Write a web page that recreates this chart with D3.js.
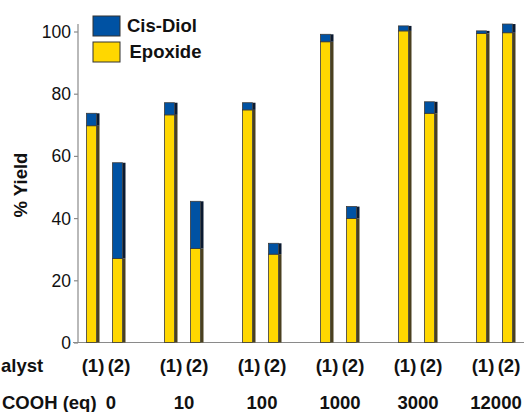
<!DOCTYPE html>
<html><head><meta charset="utf-8">
<script src="https://cdn.jsdelivr.net/npm/d3@7/dist/d3.min.js"></script>
<style>body{margin:0;background:#fff}svg{display:block}text{font-family:"Liberation Sans",Arial,sans-serif}</style>
</head><body>
<svg id="c" width="524" height="412"></svg>
<script>
const groups = ["0","10","100","1000","3000","12000"];
const catalysts = ["(1)","(2)"];
const epoxide = [69.7, 27.0, 73.2, 30.2, 74.8, 28.4, 96.7, 39.9, 100.2, 73.7, 99.4, 99.6];
const diol    = [4.0, 30.8, 3.9, 15.2, 2.3, 3.5, 2.4, 3.8, 1.6, 3.7, 0.8, 2.8];
const yTicks = [0, 20, 40, 60, 80, 100];
const seriesNames = ["Cis-Diol", "Epoxide"];
const rowLabels = ["alyst", "COOH (eq)"];

const svg = d3.select("#c");
const colors = {"Epoxide": "#ffd700", "Cis-Diol": "#0052a3"};
const shade = {"Epoxide": "#4a4020", "Cis-Diol": "#0b1a30"};

const x0 = d3.scaleBand().domain(groups).range([67, 535]).padding(0);
const x1 = d3.scaleBand().domain(catalysts).range([13, 65]).padding(0);
const y = d3.scaleLinear().domain([0, 100]).range([342.5, 31.5]);

// axes
const yAxis = svg.append("g").attr("transform", "translate(78,0)")
  .call(d3.axisLeft(y).tickValues(yTicks).tickSize(4).tickPadding(3).tickFormat(d3.format("d")));
yAxis.select(".domain").attr("d", `M0,24V${y(0)}`).attr("stroke", "#8a8a8a").attr("stroke-width", 1.2);
yAxis.selectAll(".tick line").attr("stroke", "#8a8a8a").attr("stroke-width", 1.2);
yAxis.selectAll(".tick text").attr("font-size", 17.5).attr("fill", "#111").attr("dy", "0.34em")
  .style("font-family", '"Liberation Sans",Arial,sans-serif');
svg.append("line").attr("x1", 73).attr("x2", 524).attr("y1", y(0)).attr("y2", y(0))
  .attr("stroke", "#8a8a8a").attr("stroke-width", 1.2);

// bars
const data = [];
groups.forEach((g, gi) => catalysts.forEach((c, ci) => {
  const i = gi * 2 + ci;
  data.push({g, c, segs: [
    {name: "Epoxide", y0: 0, y1: epoxide[i]},
    {name: "Cis-Diol", y0: epoxide[i], y1: epoxide[i] + diol[i]}
  ]});
}));
const bw = 10, sw = 3;
const bars = svg.append("g").selectAll("g").data(data).join("g")
  .attr("transform", d => `translate(${x0(d.g) + x1(d.c) + x1.bandwidth()/2},0)`);
bars.each(function(d) {
  const gsel = d3.select(this);
  d.segs.forEach(s => {
    gsel.append("rect").attr("x", bw/2 - 1.5).attr("width", sw)
      .attr("y", y(s.y1)).attr("height", y(s.y0) - y(s.y1)).attr("fill", shade[s.name]);
    gsel.append("rect").attr("x", -bw/2 - 1.5).attr("width", bw)
      .attr("y", y(s.y1)).attr("height", y(s.y0) - y(s.y1))
      .attr("fill", colors[s.name]).attr("stroke", "#3a3a3a").attr("stroke-width", 0.8);
  });
});

// catalyst labels
const bold = 18.5;
svg.append("g").selectAll("text").data(data).join("text")
  .attr("x", d => x0(d.g) + x1(d.c) + x1.bandwidth()/2).attr("y", 372)
  .attr("text-anchor", "middle").attr("font-weight", "bold").attr("font-size", bold).attr("fill", "#111")
  .text(d => d.c);
svg.append("g").selectAll("text").data(groups).join("text")
  .attr("x", (d, i) => x0(d) + x0.bandwidth()/2 + (i === 0 ? 5 : 0)).attr("y", 409)
  .attr("text-anchor", "middle").attr("font-weight", "bold").attr("font-size", bold).attr("fill", "#111")
  .text(d => d);
svg.append("text").attr("x", 1).attr("y", 372)
  .attr("font-weight", "bold").attr("font-size", bold).attr("fill", "#111").text(rowLabels[0]);
svg.append("text").attr("x", 2).attr("y", 409)
  .attr("font-weight", "bold").attr("font-size", bold).attr("fill", "#111").text(rowLabels[1]);

// y label
svg.append("text").attr("transform", "translate(27,185) rotate(-90)").attr("text-anchor", "middle")
  .attr("font-weight", "bold").attr("font-size", bold).attr("fill", "#111").text("% Yield");

// legend
const lg = svg.append("g");
seriesNames.forEach((n, i) => {
  lg.append("rect").attr("x", 93).attr("y", 16 + i * 26).attr("width", 27).attr("height", 20)
    .attr("fill", colors[n]).attr("stroke", "#333").attr("stroke-width", 1);
  lg.append("text").attr("x", 127 + i * 2.5).attr("y", 32 + i * 25.5).attr("font-weight", "bold")
    .attr("font-size", bold).attr("fill", "#111").text(n);
});
</script>
</body></html>
